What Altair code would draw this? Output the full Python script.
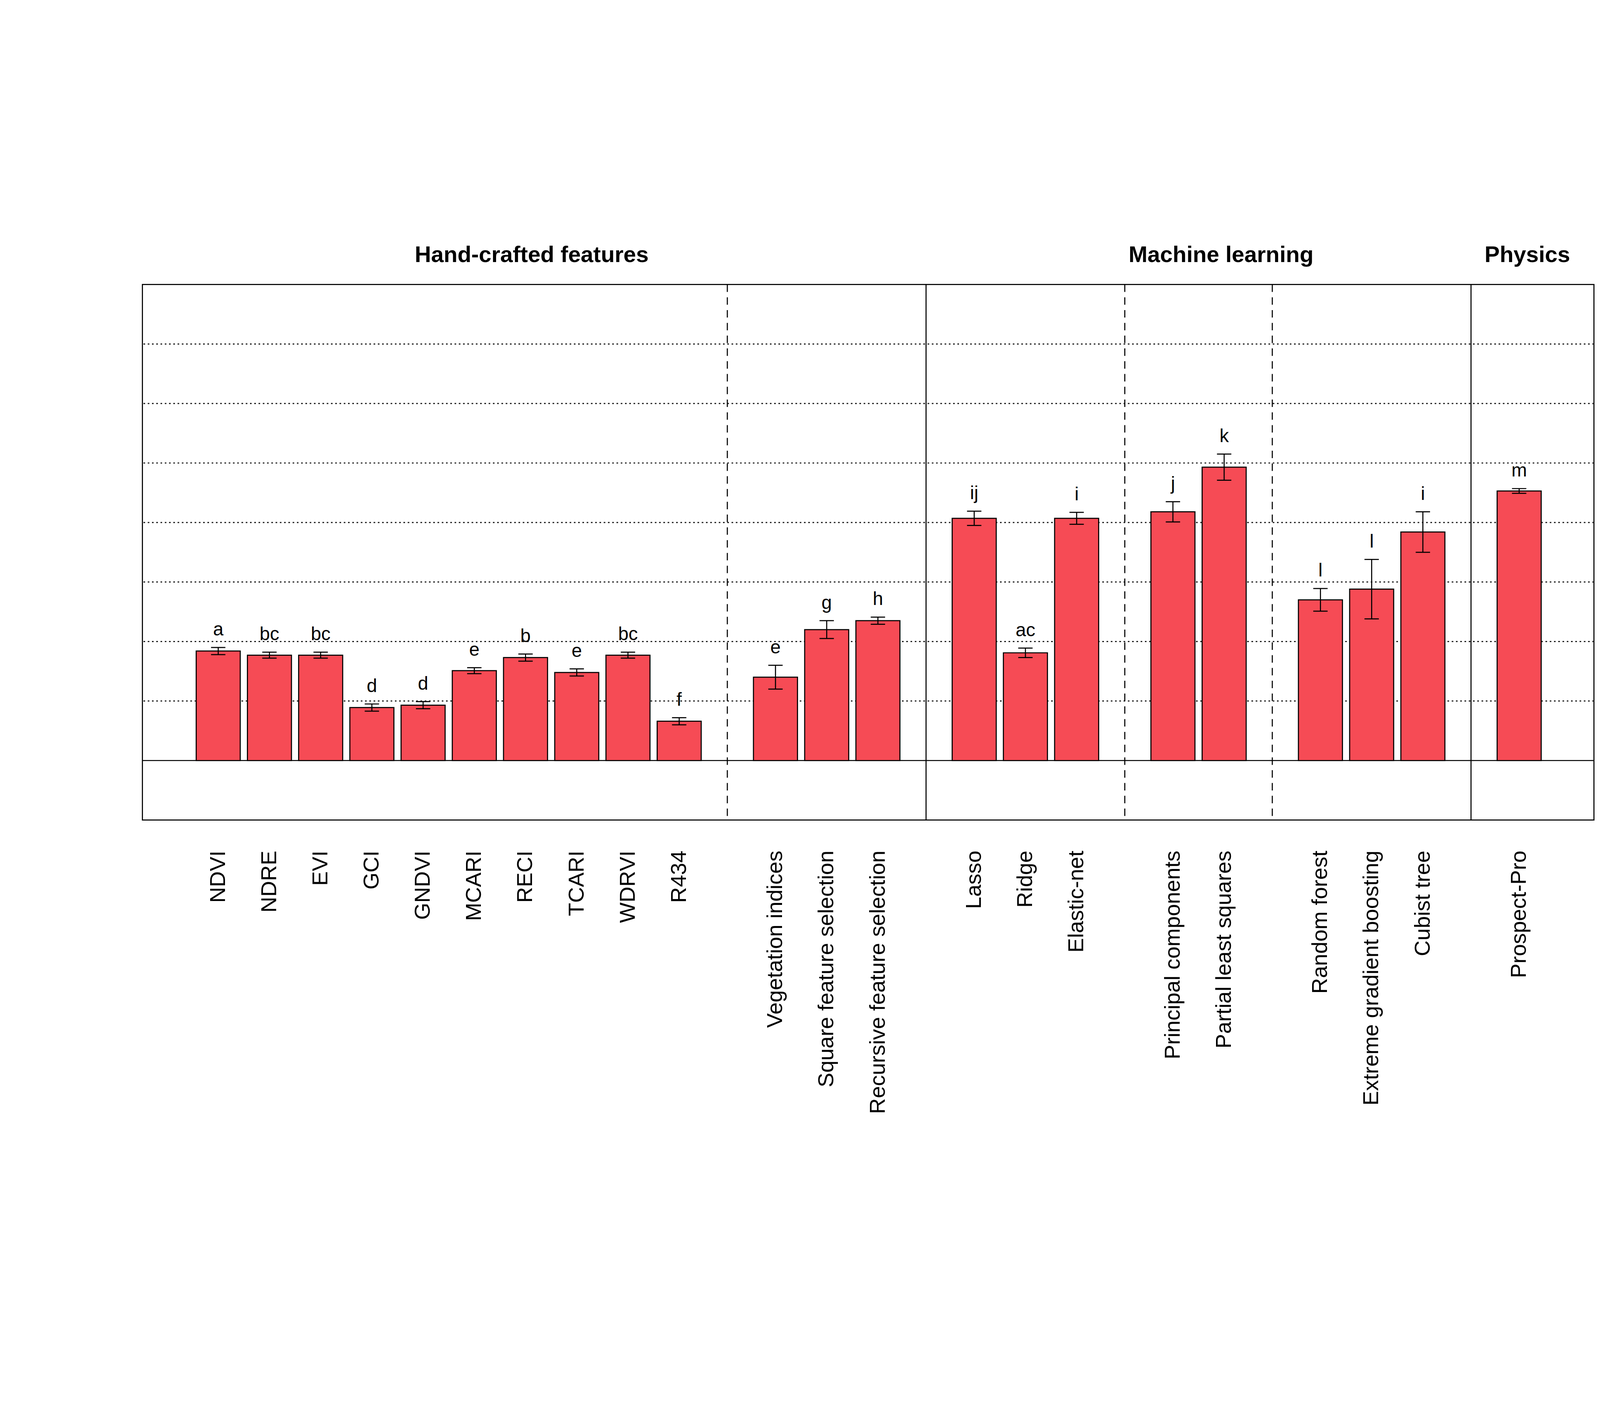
import pandas as pd
import altair as alt

# bar data
names = ["NDVI", "NDRE", "EVI", "GCI", "GNDVI", "MCARI", "RECI", "TCARI", "WDRVI", "R434",
         "Vegetation indices", "Square feature selection", "Recursive feature selection",
         "Lasso", "Ridge", "Elastic-net",
         "Principal components", "Partial least squares",
         "Random forest", "Extreme gradient boosting", "Cubist tree",
         "Prospect-Pro"]
groups = [0]*10 + [1]*3 + [2]*3 + [3]*2 + [4]*3 + [5]
r2 = [0.184, 0.177, 0.177, 0.089, 0.093, 0.151, 0.173, 0.148, 0.177, 0.066,
      0.140, 0.220, 0.235,
      0.407, 0.181, 0.407,
      0.418, 0.493,
      0.270, 0.288, 0.384,
      0.453]
err = [0.006, 0.005, 0.005, 0.006, 0.006, 0.005, 0.006, 0.006, 0.005, 0.006,
       0.020, 0.015, 0.006,
       0.012, 0.008, 0.010,
       0.017, 0.022,
       0.019, 0.050, 0.034,
       0.004]
letters = ["a", "bc", "bc", "d", "d", "e", "b", "e", "bc", "f",
           "e", "g", "h", "ij", "ac", "i", "j", "k", "l", "l", "i", "m"]

sep_dashed = [True, False, True, True, False]
headers = ["Hand-crafted features", "Machine learning", "Physics"]
header_pos = [6.12, 19.58, 25.56]

GAP = 0.88
W, H = 5450, 2011
FONT = "Liberation Sans"
XDOM = [-1.48, 26.86]
BAR_HALF = 0.43
CAP_HALF = 0.14

df = pd.DataFrame({"name": names, "group": groups, "r2": r2, "err": err, "letter": letters})
df["pos"] = df.index + df["group"] * GAP
df["left"] = df["pos"] - BAR_HALF
df["right"] = df["pos"] + BAR_HALF
df["cl"] = df["pos"] - CAP_HALF
df["cr"] = df["pos"] + CAP_HALF
df["lo"] = df["r2"] - df["err"]
df["hi"] = df["r2"] + df["err"]
df["zero"] = 0.0

seps = []
for g, dashed in enumerate(sep_dashed):
    last = df[df.group == g]["pos"].max()
    first = df[df.group == g + 1]["pos"].min()
    seps.append({"x": (last + first) / 2, "dash": "d" if dashed else "s"})
sep_df = pd.DataFrame(seps)

xs = alt.Scale(domain=XDOM, nice=False, zero=False)
ys = alt.Scale(domain=[-0.1, 0.8], nice=False, zero=False)
base = alt.Chart(df)

grid = alt.Chart(pd.DataFrame({"y": [0.1, 0.2, 0.3, 0.4, 0.5, 0.6, 0.7]})).mark_rule(
    color="black", strokeDash=[6, 10], strokeWidth=4
).encode(y=alt.Y("y:Q", scale=ys, axis=None))
zero = alt.Chart(pd.DataFrame({"y": [0.0]})).mark_rule(color="black", strokeWidth=4).encode(
    y=alt.Y("y:Q", scale=ys, axis=None))

sep_d = alt.Chart(sep_df[sep_df.dash == "d"]).mark_rule(color="black", strokeWidth=4, strokeDash=[28, 20]).encode(
    x=alt.X("x:Q", scale=xs, axis=None))
sep_s = alt.Chart(sep_df[sep_df.dash == "s"]).mark_rule(color="black", strokeWidth=4).encode(
    x=alt.X("x:Q", scale=xs, axis=None))

bars = base.mark_bar(color="#F64B55", stroke="black", strokeWidth=4).encode(
    x=alt.X("left:Q", scale=xs, axis=None),
    x2="right:Q",
    y=alt.Y("r2:Q", scale=ys, title="Goodness of fit (R²)",
            axis=alt.Axis(values=[0, 0.2, 0.4, 0.6, 0.8], format=".1f", grid=False,
                          labelFontSize=80, titleFontSize=72, labelFont=FONT, titleFont=FONT,
                          tickSize=30, tickWidth=4, domainWidth=4, domainColor="black",
                          tickColor="black", labelColor="black", titleColor="black",
                          labelPadding=12, titlePadding=40, titleFontWeight="normal")),
    y2="zero:Q",
)
ebar = base.mark_rule(color="black", strokeWidth=4).encode(
    x=alt.X("pos:Q", scale=xs), y=alt.Y("lo:Q", scale=ys), y2="hi:Q")
caps_lo = base.mark_rule(color="black", strokeWidth=4).encode(
    x=alt.X("cl:Q", scale=xs), x2="cr:Q", y=alt.Y("lo:Q", scale=ys))
caps_hi = base.mark_rule(color="black", strokeWidth=4).encode(
    x=alt.X("cl:Q", scale=xs), x2="cr:Q", y=alt.Y("hi:Q", scale=ys))
let = base.mark_text(fontSize=70, font=FONT, baseline="bottom", dy=-30, color="black").encode(
    x=alt.X("pos:Q", scale=xs), y=alt.Y("hi:Q", scale=ys), text="letter:N")

xlab = base.mark_text(fontSize=82, font=FONT, angle=270, align="right", baseline="middle",
                      color="black").encode(
    x=alt.X("pos:Q", scale=xs), y=alt.value(H + 115), text="name:N")

head = alt.Chart(pd.DataFrame({"x": header_pos, "t": headers})).mark_text(
    fontSize=85, font=FONT, fontWeight="bold", color="black", baseline="middle").encode(
    x=alt.X("x:Q", scale=xs), y=alt.value(-110), text="t:N")

chart = alt.layer(grid, zero, sep_d, sep_s, bars, ebar, caps_lo, caps_hi, let, xlab, head).properties(
    width=W, height=H,
    background="white",
    autosize=alt.AutoSizeParams(type="none"),
    padding={"left": 523, "top": 219, "right": 11, "bottom": 1360},
).configure_view(stroke="black", strokeWidth=4)

chart.save("out.html", embed_options={"renderer": "svg", "actions": False})
